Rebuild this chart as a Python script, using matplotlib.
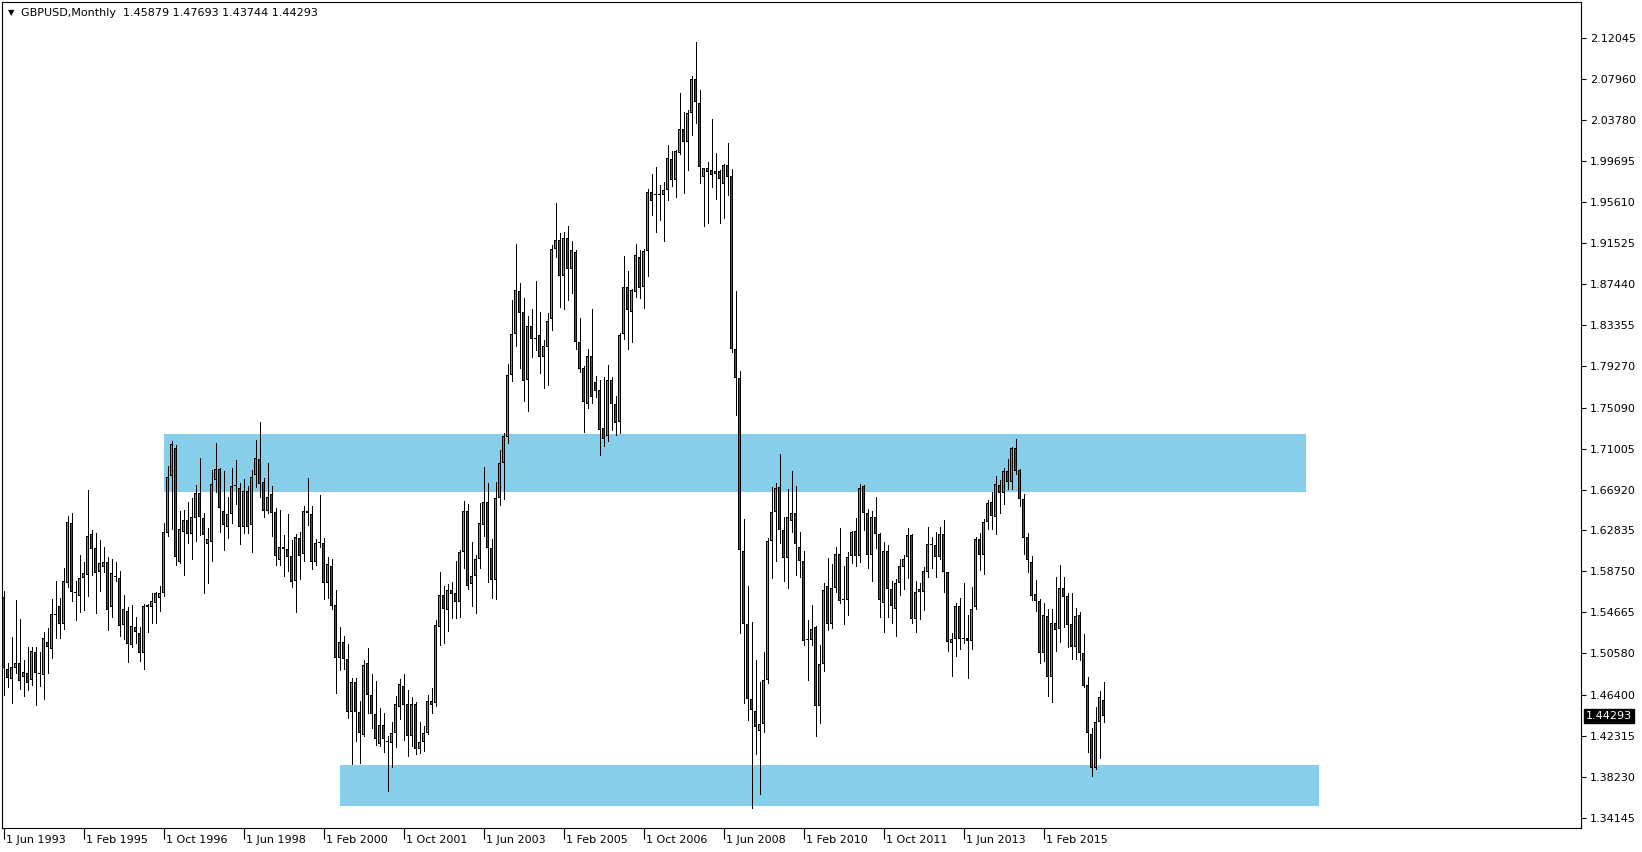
import matplotlib
matplotlib.use("Agg")
import matplotlib.pyplot as plt
from matplotlib.collections import LineCollection
from matplotlib.patches import Rectangle
import matplotlib.transforms as mtransforms

# ---------------- data ----------------
title_text = "GBPUSD,Monthly"
last_ohlc = [1.45879, 1.47693, 1.43744, 1.44293]

# monthly candles, first candle = Jun 1993
opens = [
    1.5619, 1.4900, 1.4797, 1.4906, 1.4956, 1.4823, 1.4857, 1.4787, 1.5070, 1.4850, 1.4837, 1.5166,
    1.5103, 1.5449, 1.5529, 1.5346, 1.5762, 1.6358, 1.5659, 1.5632, 1.5805, 1.5842, 1.6248, 1.6105,
    1.5865, 1.5922, 1.5968, 1.5516, 1.5815, 1.5809, 1.5336, 1.5479, 1.5136, 1.5316, 1.5259, 1.5056,
    1.5522, 1.5516, 1.5562, 1.5605, 1.5655, 1.6261, 1.6824, 1.7103, 1.5972, 1.6271, 1.6385, 1.6245,
    1.6404, 1.6657, 1.6408, 1.6145, 1.6171, 1.6784, 1.6894, 1.6474, 1.6315, 1.6444, 1.6728, 1.6704,
    1.6321, 1.6677, 1.6341, 1.6834, 1.6993, 1.6767, 1.6478, 1.6644, 1.6468, 1.5985, 1.6118, 1.6095,
    1.6028, 1.5782, 1.6208, 1.6045, 1.6478, 1.6444, 1.5972, 1.6155, 1.6155, 1.5762, 1.5925, 1.5536,
    1.5007, 1.5166, 1.5000, 1.4474, 1.4767, 1.4467, 1.4244, 1.4957, 1.4637, 1.4447, 1.4151, 1.4337,
    1.4174, 1.4158, 1.4257, 1.4524, 1.4727, 1.4547, 1.4234, 1.4547, 1.4104, 1.4168, 1.4257, 1.4577,
    1.4560, 1.5323, 1.5639, 1.5492, 1.5689, 1.5656, 1.5566, 1.6070, 1.6478, 1.5745, 1.5828, 1.5995,
    1.6340, 1.6564, 1.6105, 1.5788, 1.6611, 1.6954, 1.7214, 1.7840, 1.8243, 1.8675, 1.8462, 1.7786,
    1.8326, 1.8193, 1.8233, 1.8019, 1.8119, 1.8392, 1.9091, 1.9181, 1.8828, 1.9201, 1.8898, 1.9061,
    1.8169, 1.7903, 1.7543, 1.8026, 1.7770, 1.7683, 1.7304, 1.7224, 1.7787, 1.7547, 1.7370, 1.8243,
    1.8712, 1.8469, 1.8669, 1.9018, 1.8719, 1.9075, 1.9661, 1.9631, 1.9631, 1.9631, 1.9684, 1.9994,
    1.9787, 2.0054, 2.0290, 2.0167, 2.0450, 2.0789, 2.0556, 1.9811, 1.9900, 1.9880, 1.9840, 1.9870,
    1.9741, 1.9930, 1.9819, 1.8092, 1.7810, 1.6083, 1.5350, 1.4600, 1.4484, 1.4283, 1.4348, 1.4787,
    1.6181, 1.6467, 1.6714, 1.6288, 1.6006, 1.6377, 1.6454, 1.6117, 1.5976, 1.5188, 1.5188, 1.5320,
    1.4531, 1.4953, 1.5733, 1.5350, 1.5712, 1.6053, 1.5584, 1.5593, 1.6029, 1.6278, 1.6032, 1.6725,
    1.6462, 1.6042, 1.6415, 1.6248, 1.5563, 1.6079, 1.5699, 1.5503, 1.5756, 1.5916, 1.6022, 1.6238,
    1.5400, 1.5669, 1.5666, 1.5872, 1.6139, 1.6139, 1.6015, 1.6245, 1.5866, 1.5163, 1.5197, 1.5533,
    1.5200, 1.5207, 1.5184, 1.5523, 1.6202, 1.6042, 1.6368, 1.6571, 1.6422, 1.6738, 1.6661, 1.6878,
    1.6764, 1.7107, 1.6888, 1.6598, 1.6215, 1.5969, 1.5649, 1.5583, 1.5063, 1.5430, 1.4817, 1.5363,
    1.5296, 1.5709, 1.5629, 1.5350, 1.5123, 1.5440, 1.5060, 1.4740, 1.4251, 1.3915, 1.4368, 1.45879,
]
highs = [
    1.5679, 1.4957, 1.5223, 1.5589, 1.5399, 1.4990, 1.5116, 1.5123, 1.5123, 1.5070, 1.5269, 1.5306,
    1.5599, 1.5779, 1.5605, 1.5912, 1.6428, 1.6461, 1.5782, 1.6038, 1.5972, 1.6687, 1.6288, 1.6261,
    1.6188, 1.6121, 1.6022, 1.6000, 1.5968, 1.5878, 1.5639, 1.5522, 1.5539, 1.5422, 1.5323, 1.5549,
    1.5545, 1.5662, 1.5669, 1.5729, 1.6361, 1.6927, 1.7177, 1.7136, 1.6478, 1.6488, 1.6564, 1.6611,
    1.6737, 1.7003, 1.6454, 1.6308, 1.6887, 1.7156, 1.6904, 1.6880, 1.6614, 1.6904, 1.6987, 1.6754,
    1.6797, 1.6727, 1.6887, 1.7186, 1.7366, 1.6810, 1.6960, 1.6727, 1.6504, 1.6488, 1.6238, 1.6448,
    1.6188, 1.6248, 1.6271, 1.6527, 1.6804, 1.6527, 1.6198, 1.6637, 1.6211, 1.6019, 1.5998, 1.5689,
    1.5316, 1.5230, 1.5146, 1.4807, 1.4807, 1.4580, 1.4990, 1.5110, 1.4850, 1.4780, 1.4514, 1.4457,
    1.4231, 1.4370, 1.4630, 1.4803, 1.4850, 1.4690, 1.4623, 1.4570, 1.4370, 1.4334, 1.4637, 1.4707,
    1.5389, 1.5869, 1.5729, 1.5749, 1.5765, 1.5978, 1.6088, 1.6578, 1.6548, 1.6171, 1.6038, 1.6554,
    1.6921, 1.6761, 1.6198, 1.6764, 1.7087, 1.7254, 1.7946, 1.8585, 1.9145, 1.8752, 1.8602, 1.8426,
    1.8495, 1.8775, 1.8465, 1.8186, 1.8452, 1.9135, 1.9551, 1.9251, 1.9264, 1.9324, 1.9178, 1.9085,
    1.8406, 1.7926, 1.8100, 1.8499, 1.7826, 1.7786, 1.7813, 1.7940, 1.7820, 1.7627, 1.8259, 1.9025,
    1.8879, 1.8692, 1.9145, 1.9085, 1.9098, 1.9691, 1.9844, 1.9917, 1.9734, 1.9767, 2.0130, 2.0077,
    2.0084, 2.0650, 2.0467, 2.0483, 2.0823, 2.1162, 2.0683, 1.9907, 1.9967, 2.0390, 2.0050, 1.9887,
    1.9940, 2.0150, 1.9890, 1.8676, 1.7874, 1.6394, 1.5733, 1.5371, 1.4987, 1.4774, 1.5072, 1.6211,
    1.6714, 1.6757, 1.7047, 1.6416, 1.6693, 1.6876, 1.6727, 1.6266, 1.6074, 1.5392, 1.5541, 1.5332,
    1.5137, 1.5755, 1.6010, 1.5947, 1.6117, 1.6309, 1.5925, 1.6066, 1.6278, 1.6412, 1.6748, 1.6738,
    1.6495, 1.6478, 1.6615, 1.6255, 1.6169, 1.6139, 1.5779, 1.5796, 1.5996, 1.6039, 1.6308, 1.6245,
    1.5779, 1.5763, 1.5922, 1.6318, 1.6222, 1.6269, 1.6315, 1.6388, 1.5872, 1.5257, 1.5563, 1.5606,
    1.5756, 1.5440, 1.5716, 1.6215, 1.6262, 1.6395, 1.6588, 1.6671, 1.6828, 1.6788, 1.6904, 1.6994,
    1.7121, 1.7197, 1.6894, 1.6648, 1.6255, 1.6029, 1.5789, 1.5600, 1.5563, 1.5499, 1.5499, 1.5819,
    1.5939, 1.5819, 1.5656, 1.5656, 1.5506, 1.5470, 1.5250, 1.4817, 1.4308, 1.4524, 1.4680, 1.47693,
]
lows = [
    1.4640, 1.4723, 1.4557, 1.4857, 1.4703, 1.4633, 1.4690, 1.4740, 1.4544, 1.4733, 1.4604, 1.4857,
    1.5013, 1.5206, 1.5206, 1.5303, 1.5722, 1.5579, 1.5389, 1.5472, 1.5489, 1.5632, 1.5842, 1.5462,
    1.5679, 1.5865, 1.5289, 1.5422, 1.5782, 1.5233, 1.5203, 1.4973, 1.5116, 1.5156, 1.4980, 1.4896,
    1.5273, 1.5356, 1.5356, 1.5482, 1.5629, 1.6231, 1.6300, 1.5942, 1.5962, 1.5842, 1.6155, 1.5999,
    1.6181, 1.6235, 1.5662, 1.5762, 1.5982, 1.6671, 1.6265, 1.6091, 1.6205, 1.6361, 1.6544, 1.6151,
    1.6255, 1.6261, 1.6071, 1.6717, 1.6621, 1.6421, 1.6455, 1.6228, 1.5942, 1.5935, 1.5832, 1.5875,
    1.5722, 1.5466, 1.5802, 1.5982, 1.6338, 1.5902, 1.5938, 1.6118, 1.5599, 1.5606, 1.5499, 1.4664,
    1.4890, 1.4900, 1.4414, 1.3948, 1.4181, 1.3958, 1.4234, 1.4457, 1.4314, 1.4144, 1.4131, 1.4074,
    1.3685, 1.3925, 1.4124, 1.4404, 1.4191, 1.4034, 1.4134, 1.4048, 1.4058, 1.4084, 1.4247, 1.4464,
    1.4534, 1.5140, 1.5163, 1.5283, 1.5409, 1.5406, 1.5423, 1.5905, 1.5702, 1.5529, 1.5456, 1.5905,
    1.6231, 1.5772, 1.5612, 1.5598, 1.6537, 1.6600, 1.7161, 1.7780, 1.8126, 1.7903, 1.7580, 1.7480,
    1.8013, 1.8086, 1.7853, 1.7703, 1.7740, 1.8286, 1.9011, 1.8519, 1.8499, 1.8585, 1.8659, 1.8096,
    1.7866, 1.7270, 1.7503, 1.7553, 1.7620, 1.7037, 1.7127, 1.7181, 1.7287, 1.7234, 1.7254, 1.8193,
    1.8093, 1.8169, 1.8619, 1.8602, 1.8509, 1.8829, 1.9431, 1.9261, 1.9384, 1.9178, 1.9584, 1.9727,
    1.9618, 2.0044, 1.9651, 1.9884, 2.0233, 2.0350, 1.9751, 1.9328, 1.9358, 1.9717, 1.9598, 1.9358,
    1.9408, 1.9634, 1.8070, 1.7439, 1.5264, 1.4561, 1.4390, 1.3516, 1.4049, 1.3652, 1.4275, 1.4761,
    1.5810, 1.5981, 1.6160, 1.5776, 1.5712, 1.6266, 1.5840, 1.5818, 1.5137, 1.4786, 1.5137, 1.4232,
    1.4360, 1.4880, 1.5286, 1.5307, 1.5669, 1.5555, 1.5350, 1.5435, 1.5962, 1.5932, 1.5972, 1.6289,
    1.5912, 1.5782, 1.6112, 1.5416, 1.5273, 1.5423, 1.5363, 1.5233, 1.5639, 1.5696, 1.5806, 1.5363,
    1.5266, 1.5396, 1.5490, 1.5822, 1.5912, 1.5822, 1.5996, 1.5673, 1.5084, 1.4830, 1.5030, 1.5097,
    1.5163, 1.4814, 1.5103, 1.5503, 1.5889, 1.5849, 1.6302, 1.6298, 1.6249, 1.6462, 1.6548, 1.6694,
    1.6698, 1.6851, 1.6528, 1.6049, 1.5872, 1.5589, 1.5483, 1.4957, 1.4983, 1.4634, 1.4567, 1.5083,
    1.5173, 1.5323, 1.5117, 1.4997, 1.4997, 1.4990, 1.4720, 1.4075, 1.3835, 1.3901, 1.4008, 1.43744,
]
closes = [
    1.4906, 1.4813, 1.4916, 1.4956, 1.4783, 1.4867, 1.4763, 1.5076, 1.4857, 1.4850, 1.5206, 1.5116,
    1.5449, 1.5443, 1.5352, 1.5779, 1.6368, 1.5665, 1.5662, 1.5809, 1.5858, 1.6228, 1.6095, 1.5855,
    1.5955, 1.5968, 1.5492, 1.5858, 1.5815, 1.5333, 1.5496, 1.5146, 1.5326, 1.5266, 1.5056, 1.5529,
    1.5539, 1.5576, 1.5655, 1.5655, 1.6268, 1.6820, 1.7143, 1.6021, 1.6295, 1.6388, 1.6245, 1.6414,
    1.6657, 1.6414, 1.6235, 1.6195, 1.6744, 1.6894, 1.6504, 1.6341, 1.6448, 1.6724, 1.6728, 1.6315,
    1.6677, 1.6321, 1.6814, 1.7003, 1.6750, 1.6478, 1.6614, 1.6454, 1.6031, 1.6118, 1.6095, 1.6021,
    1.5772, 1.6218, 1.6031, 1.6478, 1.6454, 1.5972, 1.6155, 1.6155, 1.5762, 1.5945, 1.5532, 1.5007,
    1.5166, 1.5000, 1.4474, 1.4767, 1.4474, 1.4257, 1.4937, 1.4644, 1.4454, 1.4198, 1.4337, 1.4198,
    1.4174, 1.4257, 1.4547, 1.4747, 1.4544, 1.4234, 1.4547, 1.4104, 1.4168, 1.4257, 1.4577, 1.4544,
    1.5336, 1.5639, 1.5502, 1.5689, 1.5652, 1.5572, 1.6070, 1.6478, 1.5732, 1.5828, 1.5995, 1.6354,
    1.6564, 1.6105, 1.5788, 1.6604, 1.6954, 1.7224, 1.7833, 1.8243, 1.8685, 1.8459, 1.7780, 1.8326,
    1.8193, 1.8193, 1.8019, 1.8126, 1.8372, 1.9091, 1.9181, 1.8828, 1.9201, 1.8898, 1.9081, 1.8169,
    1.7900, 1.7570, 1.8026, 1.7620, 1.7677, 1.7290, 1.7201, 1.7783, 1.7544, 1.7361, 1.8236, 1.8712,
    1.8486, 1.8685, 1.9032, 1.8709, 1.9075, 1.9661, 1.9578, 1.9631, 1.9631, 1.9681, 2.0000, 1.9787,
    2.0074, 2.0290, 2.0160, 2.0450, 2.0789, 2.0560, 1.9910, 1.9900, 1.9867, 1.9837, 1.9874, 1.9797,
    1.9930, 1.9817, 1.8092, 1.7810, 1.6087, 1.5350, 1.4600, 1.4488, 1.4318, 1.4352, 1.4795, 1.6181,
    1.6467, 1.6706, 1.6288, 1.6006, 1.6416, 1.6454, 1.6147, 1.5976, 1.5179, 1.5188, 1.5303, 1.4531,
    1.4953, 1.5691, 1.5350, 1.5712, 1.6053, 1.5576, 1.5584, 1.6023, 1.6265, 1.6029, 1.6705, 1.6462,
    1.6042, 1.6415, 1.6245, 1.5589, 1.6079, 1.5703, 1.5533, 1.5763, 1.5929, 1.5996, 1.6238, 1.5400,
    1.5669, 1.5699, 1.5879, 1.6145, 1.6139, 1.6022, 1.6245, 1.5866, 1.5167, 1.5197, 1.5533, 1.5197,
    1.5200, 1.5184, 1.5496, 1.6202, 1.6042, 1.6368, 1.6561, 1.6428, 1.6748, 1.6661, 1.6878, 1.6764,
    1.7107, 1.6881, 1.6601, 1.6212, 1.5992, 1.5632, 1.5583, 1.5063, 1.5440, 1.4817, 1.5363, 1.5286,
    1.5709, 1.5616, 1.5343, 1.5123, 1.5430, 1.5057, 1.4734, 1.4258, 1.3915, 1.4368, 1.4624, 1.44293,
]

# x-axis labels (months counted from Jun 1993)
x_tick_labels = ["1 Jun 1993", "1 Feb 1995", "1 Oct 1996", "1 Jun 1998", "1 Feb 2000",
                 "1 Oct 2001", "1 Jun 2003", "1 Feb 2005", "1 Oct 2006", "1 Jun 2008",
                 "1 Feb 2010", "1 Oct 2011", "1 Jun 2013", "1 Feb 2015"]
x_tick_months = [0, 20, 40, 60, 80, 100, 120, 140, 160, 180, 200, 220, 240, 260]

y_tick_values = [2.12045, 2.07960, 2.03780, 1.99695, 1.95610, 1.91525, 1.87440, 1.83355,
                 1.79270, 1.75090, 1.71005, 1.66920, 1.62835, 1.58750, 1.54665, 1.50580,
                 1.46400, 1.42315, 1.38230, 1.34145]

# support / resistance zones: (start month, end month, low price, high price)
zone_resistance = (40.1, 325.7, 1.6670, 1.7247)
zone_support = (84.1, 328.9, 1.3529, 1.3941)

# ---------------- drawing ----------------
W, H = 1642, 852
fig = plt.figure(figsize=(W / 100, H / 100), dpi=100)
fig.patch.set_facecolor("white")
ax_left, ax_right, ax_top, ax_bottom = 2, 1581, 2, 828
ax = fig.add_axes([ax_left / W, (H - ax_bottom) / H,
                   (ax_right - ax_left) / W, (ax_bottom - ax_top) / H])
ax.set_facecolor("white")
PX_PER_BAR = 4.0
x_min = -0.375
ax.set_xlim(x_min, x_min + (ax_right - ax_left) / PX_PER_BAR)
y_lo, y_hi = 1.3312, 2.1561
ax.set_ylim(y_lo, y_hi)
px = (y_hi - y_lo) / (ax_bottom - ax_top)   # price per pixel
bx = 1.0 / PX_PER_BAR                        # bar units per pixel

ZONE_COLOR = "#87CEEB"
for (x0, x1, lo, hi) in (zone_resistance, zone_support):
    ax.add_patch(Rectangle((x0, lo), x1 - x0, hi - lo, facecolor=ZONE_COLOR,
                           edgecolor="none", zorder=1))

n = len(opens)
xs = list(range(n))
segs = [[(i, lows[i]), (i, highs[i])] for i in xs]
ax.add_collection(LineCollection(segs, colors="black", linewidths=0.72,
                                 antialiaseds=False, zorder=2))

BULL, BEAR = "#22D022", "#D81818"
body_lo = [min(opens[i], closes[i]) for i in xs]
body_h = [max(abs(closes[i] - opens[i]), px) for i in xs]
colors = [BULL if closes[i] >= opens[i] else BEAR for i in xs]

# black outline body (3 px wide)
ax.bar(xs, body_h, bottom=body_lo, width=3 * bx, color="black",
       edgecolor="none", linewidth=0, antialiased=False, zorder=3)
# coloured interior (1 px wide), inset by 1 px
inner_x = [i for i in xs if body_h[i] > 2.5 * px]
ax.bar(inner_x, [body_h[i] - 2 * px for i in inner_x],
       bottom=[body_lo[i] + px for i in inner_x], width=1 * bx,
       color=[colors[i] for i in inner_x], edgecolor="none", linewidth=0,
       antialiased=False, zorder=4)

# frame
for s in ax.spines.values():
    s.set_color("black")
    s.set_linewidth(0.8)

FONT = "DejaVu Sans"
FS = 8

# right price axis
ax.yaxis.tick_right()
ax.set_yticks(y_tick_values)
ax.set_yticklabels([f"{v:.5f}" for v in y_tick_values], fontsize=FS, family=FONT)
ax.tick_params(axis="y", which="both", direction="out", length=3.5, width=0.8,
               pad=3, colors="black", left=False)

# bottom date axis
ax.set_xticks(x_tick_months)
ax.set_xticklabels(x_tick_labels, fontsize=FS, family=FONT, ha="left")
ax.tick_params(axis="x", direction="out", length=8, width=0.8, pad=-3, colors="black")
offset = mtransforms.ScaledTranslation(2 / 72, 0, fig.dpi_scale_trans)
for lbl in ax.get_xticklabels():
    lbl.set_transform(lbl.get_transform() + offset)
    lbl.set_verticalalignment("top")

# current price marker
blend = mtransforms.blended_transform_factory(fig.transFigure, ax.transData)
ax.text(1586 / W, last_ohlc[3], f"{last_ohlc[3]:.5f}", transform=blend,
        fontsize=FS, family=FONT, color="white", va="center", ha="left",
        bbox=dict(boxstyle="square,pad=0.2", facecolor="black", edgecolor="black"),
        zorder=10, clip_on=False)

# header
ax.text(6 / (ax_right - ax_left), 1 - 11 / (ax_bottom - ax_top), "\u25BC",
        transform=ax.transAxes, fontsize=6, family=FONT, color="black",
        va="center", ha="left")
header = title_text + "  " + " ".join(f"{v:.5f}" for v in last_ohlc)
ax.text(19 / (ax_right - ax_left), 1 - 11 / (ax_bottom - ax_top), header,
        transform=ax.transAxes, fontsize=FS, family=FONT, color="black",
        va="center", ha="left")

fig.savefig("out.png", dpi=100, facecolor="white")
